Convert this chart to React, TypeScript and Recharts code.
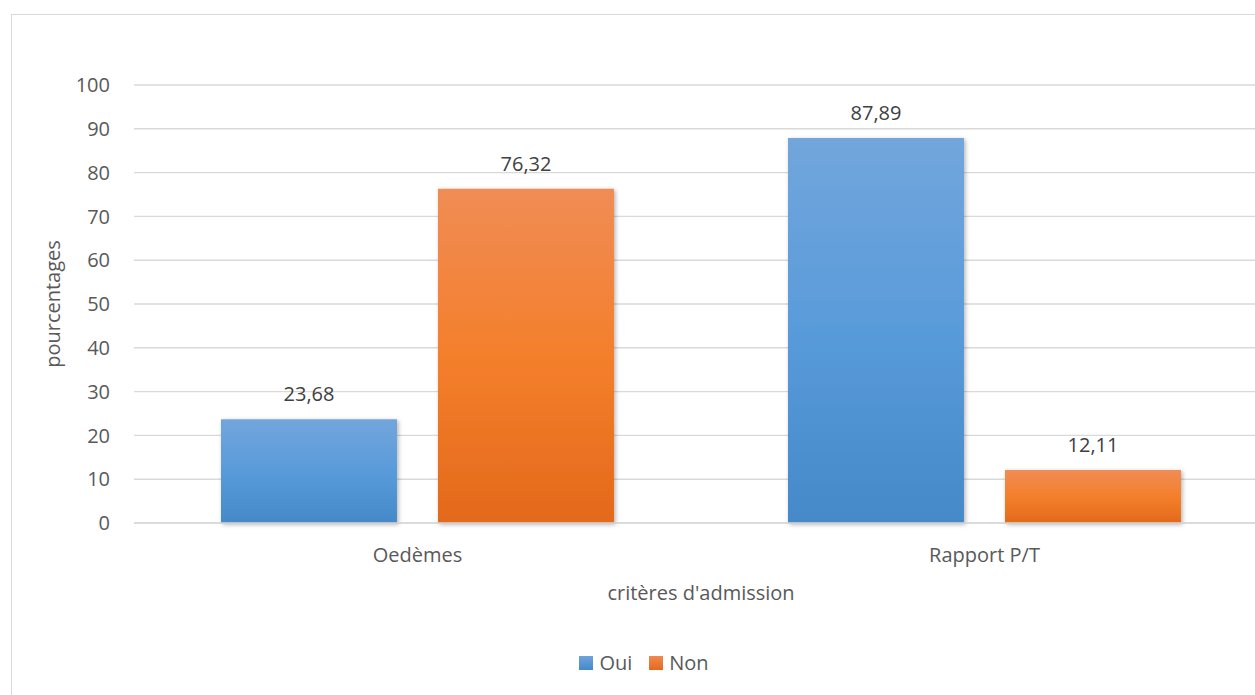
import React from "react";
import { BarChart, Bar, XAxis, YAxis, CartesianGrid, LabelList, Label } from "recharts";

// Admission criteria, share of children (%)
const categories = ["Oedèmes", "Rapport P/T"];
const oui = [23.68, 87.89];
const non = [76.32, 12.11];
const yTicks = [0, 10, 20, 30, 40, 50, 60, 70, 80, 90, 100];
const seriesNames = ["Oui", "Non"];

const data = categories.map((c, i) => ({ critere: c, Oui: oui[i], Non: non[i] }));

const FONT = "'Open Sans', sans-serif";
const AXIS_TEXT = "#595959";
const GRID = "#d9d9d9";
const swatch: Record<string, string> = {
  Oui: "linear-gradient(#6fa3dc, #4589c8)",
  Non: "linear-gradient(#f08a50, #e4691c)",
};

const fmt = (v: any) => Number(v).toFixed(2).replace(".", ",");

function ChartLegend() {
  return (
    <div
      style={{
        position: "absolute",
        left: 0,
        top: 650,
        width: 1288,
        display: "flex",
        justifyContent: "center",
        alignItems: "center",
        fontFamily: FONT,
        fontSize: 20,
        color: AXIS_TEXT,
        lineHeight: "26px",
      }}
    >
      {seriesNames.map((name, i) => (
        <div key={name} style={{ display: "flex", alignItems: "center", marginRight: i === seriesNames.length - 1 ? 0 : 17 }}>
          <div style={{ width: 14, height: 14, background: swatch[name], marginRight: 6 }} />
          <span>{name}</span>
        </div>
      ))}
    </div>
  );
}

export default function App() {
  return (
    <div style={{ position: "absolute", left: 0, top: 0, width: 1255, height: 695, overflow: "hidden", background: "#fff" }}>
      <div style={{ position: "absolute", left: 11, top: 14, width: 1320, height: 740, border: "1.5px solid #d9d9d9", boxSizing: "border-box" }} />
      <div style={{ position: "absolute", left: 0, top: 0 }}>
        <BarChart
          width={1300}
          height={695}
          data={data}
          margin={{ top: 85, right: 32, bottom: 142, left: 0 }}
          barCategoryGap="15.34%"
          barGap={41}
        >
          <defs>
            <linearGradient id="gradOui" x1="0" y1="0" x2="0" y2="1">
              <stop offset="0%" stopColor="#72a6dc" />
              <stop offset="50%" stopColor="#599bda" />
              <stop offset="100%" stopColor="#4589c8" />
            </linearGradient>
            <linearGradient id="gradNon" x1="0" y1="0" x2="0" y2="1">
              <stop offset="0%" stopColor="#f08c55" />
              <stop offset="50%" stopColor="#f47f2c" />
              <stop offset="100%" stopColor="#e3691a" />
            </linearGradient>
            <filter id="barShadow" x="-10%" y="-10%" width="130%" height="130%">
              <feDropShadow dx="1.5" dy="1.5" stdDeviation="2" floodColor="#000" floodOpacity="0.3" />
            </filter>
          </defs>
          <CartesianGrid vertical={false} stroke={GRID} strokeWidth={1.4} />
          <XAxis
            dataKey="critere"
            height={30}
            axisLine={{ stroke: GRID, strokeWidth: 1.4 }}
            tickLine={false}
            tickSize={0}
            tickMargin={25}
            tick={{ fill: AXIS_TEXT, fontSize: 20, fontFamily: FONT }}
          >
            <Label
              content={() => (
                <text x={701} y={600} textAnchor="middle" fill={AXIS_TEXT} fontSize={20} fontFamily={FONT}>
                  critères d'admission
                </text>
              )}
            />
          </XAxis>
          <YAxis
            width={134}
            domain={[0, 100]}
            ticks={yTicks}
            interval={0}
            axisLine={false}
            tickLine={false}
            tickSize={0}
            tickMargin={24}
            tick={{ fill: AXIS_TEXT, fontSize: 20, fontFamily: FONT }}
          >
            <Label
              content={(p: any) => {
                const vb = p.viewBox || {};
                const cy = (vb.y ?? 85) + (vb.height ?? 438) / 2;
                return (
                  <text
                    x={52}
                    y={cy}
                    transform={`rotate(-90 52 ${cy})`}
                    textAnchor="middle"
                    dominantBaseline="central"
                    fill={AXIS_TEXT}
                    fontSize={20}
                    fontFamily={FONT}
                  >
                    pourcentages
                  </text>
                );
              }}
            />
          </YAxis>
          <Bar dataKey="Oui" fill="url(#gradOui)" filter="url(#barShadow)" isAnimationActive={false}>
            <LabelList dataKey="Oui" position="top" offset={18} formatter={fmt} fill="#404040" fontSize={20} fontFamily={FONT} />
          </Bar>
          <Bar dataKey="Non" fill="url(#gradNon)" filter="url(#barShadow)" isAnimationActive={false}>
            <LabelList dataKey="Non" position="top" offset={18} formatter={fmt} fill="#404040" fontSize={20} fontFamily={FONT} />
          </Bar>
        </BarChart>
      </div>
      <ChartLegend />
    </div>
  );
}
